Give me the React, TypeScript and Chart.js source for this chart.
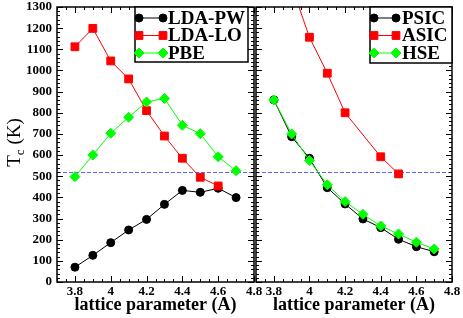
import React, { useEffect, useRef } from "react";
import { Chart, registerables } from "chart.js";

Chart.register(...registerables);

// ---------------- data ----------------
const LATTICE = [3.8, 3.9, 4.0, 4.1, 4.2, 4.3, 4.4, 4.5, 4.6, 4.7];
const LDA_PW = [70, 126, 186, 246, 296, 367, 433, 424, 443, 399];
const LDA_LO_X = [3.8, 3.9, 4.0, 4.1, 4.2, 4.3, 4.4, 4.5, 4.6];
const LDA_LO = [1112, 1199, 1045, 960, 810, 690, 585, 495, 454];
const PBE = [498, 600, 703, 779, 851, 868, 741, 701, 592, 526];
const PSIC = [861, 687, 585, 446, 369, 298, 257, 202, 167, 143];
const ASIC_X = [3.9, 4.0, 4.1, 4.2, 4.4, 4.5];
const ASIC = [1400, 1157, 987, 800, 592, 511];
const HSE = [861, 700, 574, 460, 380, 320, 265, 227, 188, 156];
const REFERENCE_TC = [522];
const X_TICKS = [3.8, 4.0, 4.2, 4.4, 4.6, 4.8];
const Y_TICKS = [0, 100, 200, 300, 400, 500, 600, 700, 800, 900, 1000, 1100, 1200, 1300];
const X_RANGE = [3.7, 4.8];
const Y_RANGE = [0, 1300];
const X_TITLE = "lattice parameter (A)";

const SERIF = "'Liberation Serif', 'Times New Roman', serif";

const pts = (xs: number[], ys: number[]) => xs.map((x, i) => ({ x, y: ys[i] }));

function series(label: string, xs: number[], ys: number[], color: string, style: string, radius: number, order: number) {
  return {
    label,
    data: pts(xs, ys),
    borderColor: color,
    backgroundColor: color,
    pointBackgroundColor: color,
    pointBorderColor: color,
    pointStyle: style,
    pointRadius: radius,
    pointBorderWidth: 1,
    borderWidth: 1,
    tension: 0,
    order,
  };
}

function drawMarker(ctx: CanvasRenderingContext2D, style: string, x: number, y: number, r: number, color: string) {
  ctx.save();
  ctx.fillStyle = color;
  ctx.strokeStyle = color;
  ctx.lineWidth = 1;
  ctx.beginPath();
  if (style === "circle") {
    ctx.arc(x, y, r, 0, Math.PI * 2);
  } else if (style === "rect") {
    const s = Math.SQRT1_2 * r;
    ctx.rect(x - s, y - s, 2 * s, 2 * s);
  } else {
    ctx.moveTo(x - r, y);
    ctx.lineTo(x, y - r);
    ctx.lineTo(x + r, y);
    ctx.lineTo(x, y + r);
    ctx.closePath();
  }
  ctx.fill();
  ctx.stroke();
  ctx.restore();
}

const framePlugin = {
  id: "frame",
  beforeDatasetsDraw(chart: any) {
    const { ctx, chartArea: a, scales } = chart;
    const y = scales.y;
    ctx.save();
    ctx.strokeStyle = "rgba(80,80,255,0.9)";
    ctx.lineWidth = 1;
    ctx.setLineDash([4, 2]);
    REFERENCE_TC.forEach((v) => {
      const py = Math.round(y.getPixelForValue(v)) + 0.5;
      ctx.beginPath();
      ctx.moveTo(a.left, py);
      ctx.lineTo(a.right, py);
      ctx.stroke();
    });
    ctx.restore();
  },
  afterDraw(chart: any, _args: any, opts: any) {
    const { ctx, chartArea: a, scales } = chart;
    const x = scales.x;
    const y = scales.y;
    ctx.save();
    ctx.strokeStyle = "#000";
    ctx.lineWidth = 1;
    // x ticks (inward, bottom and top)
    const nx = Math.round((X_RANGE[1] - X_RANGE[0]) / 0.05);
    for (let i = 0; i <= nx; i++) {
      const v = X_RANGE[0] + i * 0.05;
      const px = Math.round(x.getPixelForValue(v)) + 0.5;
      const major = i % 4 === 2;
      const len = major ? 6 : 3;
      ctx.beginPath();
      ctx.moveTo(px, a.bottom);
      ctx.lineTo(px, a.bottom - len);
      ctx.moveTo(px, a.top);
      ctx.lineTo(px, a.top + len);
      ctx.stroke();
    }
    // y ticks (inward, left and right)
    const ny = Math.round((Y_RANGE[1] - Y_RANGE[0]) / 20);
    for (let i = 0; i <= ny; i++) {
      const v = Y_RANGE[0] + i * 20;
      const py = Math.round(y.getPixelForValue(v)) + 0.5;
      const major = i % 5 === 0;
      const len = major ? 6 : 3;
      ctx.beginPath();
      ctx.moveTo(a.left, py);
      ctx.lineTo(a.left + len, py);
      ctx.moveTo(a.right, py);
      ctx.lineTo(a.right - len, py);
      ctx.stroke();
    }
    // frame
    ctx.lineWidth = 1.5;
    ctx.strokeRect(a.left, a.top, a.right - a.left, a.bottom - a.top);

    // legend
    const L = opts.legend;
    if (L) {
      const bx = a.right - L.rightInset - L.w;
      const by = a.top;
      ctx.fillStyle = "#fff";
      ctx.fillRect(bx, by, L.w, L.h);
      ctx.lineWidth = 1.5;
      ctx.strokeStyle = "#000";
      ctx.strokeRect(bx, by, L.w, L.h);
      const items = [...chart.data.datasets].sort((p: any, q: any) => q.order - p.order);
      items.forEach((ds: any, i: number) => {
        const cy = by + L.row0 + i * L.rowGap;
        const x0 = bx + L.lineStart;
        const x1 = x0 + L.lineLen;
        ctx.strokeStyle = ds.borderColor;
        ctx.lineWidth = 1;
        ctx.beginPath();
        ctx.moveTo(x0, cy);
        ctx.lineTo(x1, cy);
        ctx.stroke();
        drawMarker(ctx, ds.pointStyle, x0, cy, ds.pointRadius, ds.pointBackgroundColor);
        drawMarker(ctx, ds.pointStyle, x1, cy, ds.pointRadius, ds.pointBackgroundColor);
        ctx.fillStyle = "#000";
        ctx.font = `bold 19px ${SERIF}`;
        ctx.textAlign = "left";
        ctx.textBaseline = "middle";
        ctx.fillText(ds.label, x1 + L.textGap, cy + 1);
      });
    }

    // y-axis title with subscript
    if (opts.yTitle) {
      const cy = (a.top + a.bottom) / 2 + opts.yTitle.dy;
      ctx.translate(opts.yTitle.x, cy);
      ctx.rotate(-Math.PI / 2);
      ctx.fillStyle = "#000";
      ctx.textBaseline = "alphabetic";
      ctx.textAlign = "left";
      const big = `19px ${SERIF}`;
      const small = `13px ${SERIF}`;
      ctx.font = big;
      const wT = ctx.measureText("T").width;
      const wK = ctx.measureText(" (K)").width;
      ctx.font = small;
      const wc = ctx.measureText("c").width;
      let sx = -(wT + wc + wK) / 2;
      ctx.font = big;
      ctx.fillText("T", sx, 0);
      sx += wT;
      ctx.font = small;
      ctx.fillText("c", sx, 4);
      sx += wc;
      ctx.font = big;
      ctx.fillText(" (K)", sx, 0);
    }
    ctx.restore();
  },
};

const fmt = (v: number) => String(Number(Number(v).toFixed(1)));

function xScale() {
  return {
    type: "linear",
    min: X_RANGE[0],
    max: X_RANGE[1],
    afterBuildTicks: (s: any) => {
      s.ticks = X_TICKS.map((v) => ({ value: v }));
    },
    ticks: {
      font: { family: SERIF, weight: "bold", size: 13 },
      color: "#000",
      padding: 2,
      maxRotation: 0,
      autoSkip: false,
      callback: (v: any) => fmt(v),
    },
    grid: { display: false, drawTicks: false },
    border: { display: false },
    title: {
      display: true,
      text: X_TITLE,
      font: { family: SERIF, weight: "bold", size: 18 },
      color: "#000",
      padding: { top: 0, bottom: 2 },
    },
    afterFit: (s: any) => {
      s.height = 36;
    },
  };
}

function yScale(show: boolean) {
  return {
    type: "linear",
    display: show,
    min: Y_RANGE[0],
    max: Y_RANGE[1],
    afterBuildTicks: (s: any) => {
      s.ticks = Y_TICKS.map((v) => ({ value: v }));
    },
    ticks: {
      font: { family: SERIF, weight: "bold", size: 13 },
      color: "#000",
      padding: 5,
      autoSkip: false,
      callback: (v: any) => String(v),
    },
    grid: { display: false, drawTicks: false },
    border: { display: false },
    afterFit: (s: any) => {
      s.width = show ? 57 : 0;
      s.paddingTop = 0;
      s.paddingBottom = 0;
    },
  };
}

function makeChart(canvas: HTMLCanvasElement, left: boolean) {
  const datasets = left
    ? [
        series("LDA-PW", LATTICE, LDA_PW, "#000000", "circle", 4, 3),
        series("LDA-LO", LDA_LO_X, LDA_LO, "#ff0000", "rect", 5.5, 2),
        series("PBE", LATTICE, PBE, "#00ff00", "rectRot", 5, 1),
      ]
    : [
        series("PSIC", LATTICE, PSIC, "#000000", "circle", 4, 3),
        series("ASIC", ASIC_X, ASIC, "#ff0000", "rect", 5.5, 2),
        series("HSE", LATTICE, HSE, "#00ff00", "rectRot", 5, 1),
      ];
  return new Chart(canvas, {
    type: "line",
    data: { datasets } as any,
    options: {
      responsive: false,
      devicePixelRatio: 1,
      animation: false,
      layout: {
        padding: left
          ? { left: 0, right: 21, top: 7, bottom: 0 }
          : { left: 16, right: 11, top: 7, bottom: 0 },
      },
      scales: { x: xScale(), y: yScale(left) } as any,
      plugins: {
        legend: { display: false },
        tooltip: { enabled: false },
        frame: left
          ? {
              legend: { w: 113, h: 55, rightInset: 6, row0: 11, rowGap: 17.5, lineStart: 4, lineLen: 24, textGap: 5 },
              yTitle: { x: 20, dy: -2 },
            }
          : {
              legend: { w: 82, h: 56, rightInset: 0, row0: 11, rowGap: 17.5, lineStart: 4, lineLen: 22, textGap: 6 },
            },
      } as any,
    },
    plugins: [framePlugin as any],
  });
}

export default function App() {
  const leftRef = useRef<HTMLCanvasElement>(null);
  const rightRef = useRef<HTMLCanvasElement>(null);
  useEffect(() => {
    const c1 = makeChart(leftRef.current!, true);
    const c2 = makeChart(rightRef.current!, false);
    return () => {
      c1.destroy();
      c2.destroy();
    };
  }, []);
  return (
    <div style={{ position: "absolute", left: 0, top: 0, width: 463, height: 318, background: "#fff", overflow: "hidden" }}>
      <canvas ref={leftRef} width={275} height={318} style={{ position: "absolute", left: 0, top: 0, width: 275, height: 318 }} />
      <canvas ref={rightRef} width={223} height={318} style={{ position: "absolute", left: 240, top: 0, width: 223, height: 318 }} />
    </div>
  );
}
